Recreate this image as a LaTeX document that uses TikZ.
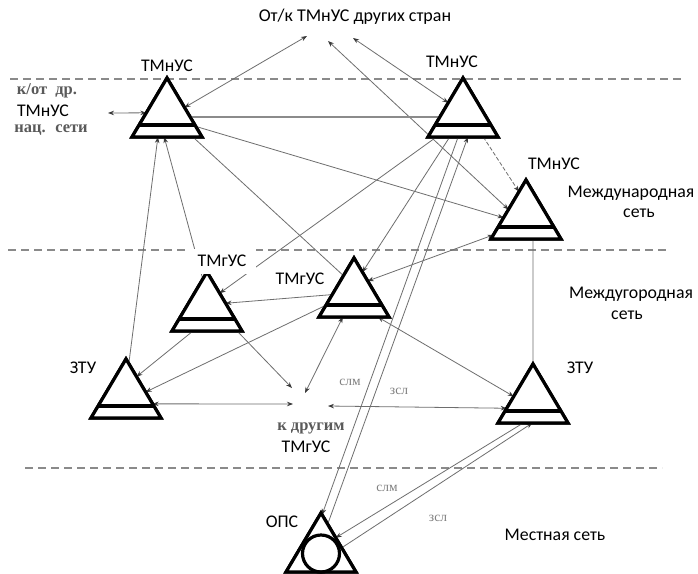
\documentclass[tikz,border=0pt]{standalone}
\usepackage{fontspec}
\setmainfont{Carlito}
\newfontfamily\scanserif{Liberation Serif}
\usetikzlibrary{arrows.meta,calc}

\definecolor{linkgray}{HTML}{6E6E6E}
\definecolor{tipgray}{HTML}{3A3A3A}
\definecolor{dashgray}{HTML}{8A8A8A}
\definecolor{scangray}{HTML}{5A5A5A}
\definecolor{faintgray}{HTML}{808080}

\tikzset{
  link/.style={draw=linkgray, line width=0.8pt},
  onehead/.style={-{Stealth[length=6pt,width=4.5pt,color=tipgray]}},
  twohead/.style={{Stealth[length=6pt,width=4.5pt,color=tipgray]}-{Stealth[length=6pt,width=4.5pt,color=tipgray]}},
  zone/.style={draw=dashgray, line width=1.1pt, dash pattern=on 8pt off 5pt},
  outline/.style={draw=black, line width=3.2pt, line join=miter, fill=white},
  lbl/.style={font=\fontsize{17.8}{19}\selectfont, inner sep=1.5pt, fill=white},
  scanlbl/.style={font=\scanserif\bfseries\fontsize{16.5}{17}\selectfont, text=scangray, inner sep=1pt},
  linelbl/.style={font=\scanserif\fontsize{13.5}{14}\selectfont, text=faintgray, inner sep=1pt},
  % switching centre: triangle with a bar near its base
  stn/.pic={
    \coordinate (-A) at (0,0);
    \coordinate (-L) at (-35,59);
    \coordinate (-R) at (35,59);
    \path[outline] (-35,59) -- (0,0) -- (35,59) -- cycle;
    \draw[black, line width=3.2pt] (-27.9,47) -- (27.9,47);
  },
  % local exchange: triangle with an inscribed circle
  ops/.pic={
    \coordinate (-A) at (0,0);
    \coordinate (-L) at (-35,59);
    \coordinate (-R) at (35,59);
    \path[outline] (-35,59) -- (0,0) -- (35,59) -- cycle;
    \draw[black, line width=3.2pt] (0,40.5) circle[radius=18.5];
  },
}

\begin{document}
\begin{tikzpicture}[x=1pt,y=-1pt]
\useasboundingbox[fill=white] (0,0) rectangle (698,573);

% network levels
\draw[zone] (10,79) -- (683,79);
\draw[zone] (8,250) -- (667,250);
\draw[zone] (25,468) -- (662,468);

% station anchors (symbols are drawn again on top of the connectors)
\pic (T1) at (167,78) {stn};
\pic (T2) at (463,78) {stn};
\pic (T3) at (526,180) {stn};
\pic (T4) at (207,272) {stn};
\pic (T5) at (354,258) {stn};
\pic (T6) at (126,359) {stn};
\pic (T7) at (533,364) {stn};
\pic (T8) at (321,513) {ops};

% free ends of connectors
\coordinate (up1) at (307,36);
\coordinate (up2) at (328,41);
\coordinate (up3) at (353,38);
\coordinate (nat) at (108,113);
\coordinate (kd1) at (292,388);
\coordinate (kd2) at (305,393);
\coordinate (kd3) at (293,404);
\coordinate (kd4) at (328,406);

% connectors
\draw[link,twohead] ($(T1-A)!0.5!(T1-R)$) -- (up1);
\draw[link,twohead] ($(T3-A)!0.5!(T3-L)$) -- (up2);
\draw[link,twohead] ($(T2-A)!0.42!(T2-L)$) -- (up3);
\draw[link,twohead] ($(T1-A)!0.59!(T1-L)$) -- (nat);
\draw[link,line width=1.4pt,draw=linkgray!80] ($(T1-A)!0.66!(T1-R)$) -- ($(T2-A)!0.66!(T2-L)$);
\draw[link,onehead] ($(T1-A)!0.82!(T1-R)$) -- ($(T3-A)!0.64!(T3-L)$);
\draw[link] ($(T1-L)!0.87!(T1-R)$) -- ($(T5-A)!0.3!(T5-L)$);
\draw[link,onehead] ($(T4-A)!0.12!(T4-L)$) -- ($(T1-L)!0.46!(T1-R)$);
\draw[link,onehead] ($(T6-A)!0.08!(T6-R)$) -- ($(T1-L)!0.37!(T1-R)$);
\draw[link,onehead] ($(T2-L)!0.12!(T2-R)$) -- ($(T4-A)!0.36!(T4-R)$);
\draw[link,onehead] ($(T2-L)!0.31!(T2-R)$) -- ($(T5-A)!0.24!(T5-R)$);
\draw[link,onehead] ($(T2-L)!0.43!(T2-R)$) -- ($(T8-A)!0.03!(T8-R)$);
\draw[link,onehead] ($(T8-A)!0.19!(T8-R)$) -- ($(T2-L)!0.57!(T2-R)$);
\draw[link,onehead,dash pattern=on 4pt off 2pt] ($(T2-L)!0.79!(T2-R)$) -- ($(T3-A)!0.2!(T3-L)$);
\draw[link,twohead] ($(T3-A)!0.93!(T3-L)$) -- ($(T5-A)!0.39!(T5-R)$);
\draw[link] ($(T3-L)!0.6!(T3-R)$) -- (T7-A);
\draw[link,onehead] ($(T5-A)!0.62!(T5-L)$) -- ($(T4-A)!0.53!(T4-R)$);
\draw[link,onehead] ($(T5-A)!0.8!(T5-L)$) -- ($(T6-A)!0.56!(T6-R)$);
\draw[link,onehead] ($(T4-L)!0.3!(T4-R)$) -- ($(T6-A)!0.3!(T6-R)$);
\draw[link,onehead] ($(T4-L)!0.93!(T4-R)$) -- (kd1);
\draw[link,twohead] ($(T5-L)!0.34!(T5-R)$) -- (kd2);
\draw[link,twohead] ($(T6-A)!0.76!(T6-R)$) -- (kd3);
\draw[link,twohead] (kd4) -- ($(T7-A)!0.75!(T7-L)$);
\draw[link,twohead] ($(T5-L)!0.84!(T5-R)$) -- ($(T7-A)!0.55!(T7-L)$);
\draw[link,onehead] ($(T7-L)!0.36!(T7-R)$) -- ($(T8-A)!0.42!(T8-R)$);
\draw[link,onehead] ($(T8-A)!0.59!(T8-R)$) -- ($(T7-L)!0.49!(T7-R)$);

% station symbols above the connectors
\pic at (167,78) {stn};
\pic at (463,78) {stn};
\pic at (526,180) {stn};
\pic at (207,272) {stn};
\pic at (354,258) {stn};
\pic at (126,359) {stn};
\pic at (533,364) {stn};
\pic at (321,513) {ops};

% station names
\node[lbl] (nT1) at (167,66) {ТМнУС};
\node[lbl] (nT2) at (452,62) {ТМнУС};
\node[lbl] (nT3) at (554,164) {ТМнУС};
\node[lbl,minimum width=68pt,minimum height=25pt] (nT4) at (222,261) {ТМгУС};
\node[lbl,minimum width=64pt,minimum height=26pt] (nT5) at (300,279) {ТМгУС};
\node[lbl] (nT6) at (83,368) {ЗТУ};
\node[lbl] (nT7) at (580,368) {ЗТУ};
\node[lbl] (nT8) at (282,522) {ОПС};

% destinations and network names
\node[lbl,fill=none,font=\fontsize{18}{19}\selectfont] (abroad) at (355,17) {От/к ТМнУС других стран};
\node[scanlbl] (nat1) at (47,91) {к/от \ др.};
\node[lbl,fill=none] (nat2) at (43,111) {ТМнУС};
\node[scanlbl] (nat3) at (51,130) {нац. \ сети};
\node[scanlbl] (other1) at (311,428) {к другим};
\node[lbl,fill=none] (other2) at (306,447) {ТМгУС};
\node[lbl,fill=none] (intl1) at (631,193) {Международная};
\node[lbl,fill=none] (intl2) at (639,213) {сеть};
\node[lbl,fill=none] (ldist1) at (631,294) {Междугородная};
\node[lbl,fill=none] (ldist2) at (627,315) {сеть};
\node[lbl,fill=none] (local) at (555,535) {Местная сеть};

% trunk line types
\node[linelbl] (slm1) at (350,382) {слм};
\node[linelbl] (zsl1) at (399,391) {зсл};
\node[linelbl] (slm2) at (387,488) {слм};
\node[linelbl] (zsl2) at (438,518) {зсл};
\end{tikzpicture}
\end{document}
